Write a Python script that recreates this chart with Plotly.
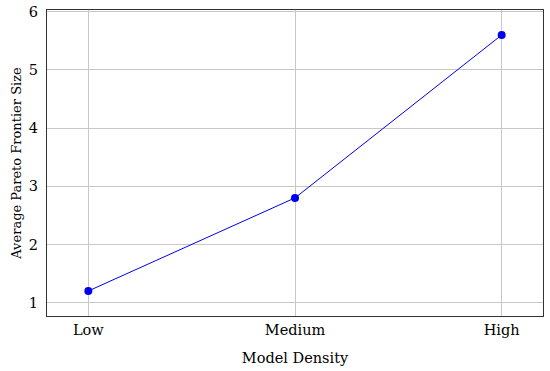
import plotly.graph_objects as go

# data
density = ['Low', 'Medium', 'High']
frontier_size = [1.2, 2.8, 5.6]
y_ticks = [1, 2, 3, 4, 5, 6]

fig = go.Figure()

fig.add_trace(go.Scatter(x=density, y=frontier_size, mode='lines+markers',
                         line=dict(color='#0000ee', width=1),
                         marker=dict(color='#0000ee', size=8),
                         showlegend=False))

fig.update_xaxes(type='category', range=[-0.2, 2.2], automargin=False,
                 showgrid=True, gridcolor='#c8c8c8', gridwidth=1,
                 showline=True, linecolor='#333333', linewidth=1, mirror=True,
                 zeroline=False, ticks='', ticklabelstandoff=1,
                 tickfont=dict(size=14.5),
                 title=dict(text='Model Density', standoff=15, font=dict(size=14.5)))
fig.update_yaxes(range=[0.77, 6.03], tickvals=y_ticks, automargin=False,
                 showgrid=True, gridcolor='#c8c8c8', gridwidth=1,
                 showline=True, linecolor='#333333', linewidth=1, mirror=True,
                 zeroline=False, ticks='', ticklabelstandoff=5,
                 ticklabeloverflow='allow',
                 tickfont=dict(size=14.5),
                 title=dict(text='Average Pareto Frontier Size', standoff=4, font=dict(size=13)))

fig.update_layout(
    width=550, height=371,
    margin=dict(l=47, r=7, t=10, b=55),
    plot_bgcolor='white',
    paper_bgcolor='white',
    font=dict(family='DejaVu Serif', size=14, color='black'))

# drop the default 8px body margin so the figure sits at the page corner
fig.write_html("out.html", config={'displayModeBar': False},
               post_script="document.body.style.margin = '0px';")
